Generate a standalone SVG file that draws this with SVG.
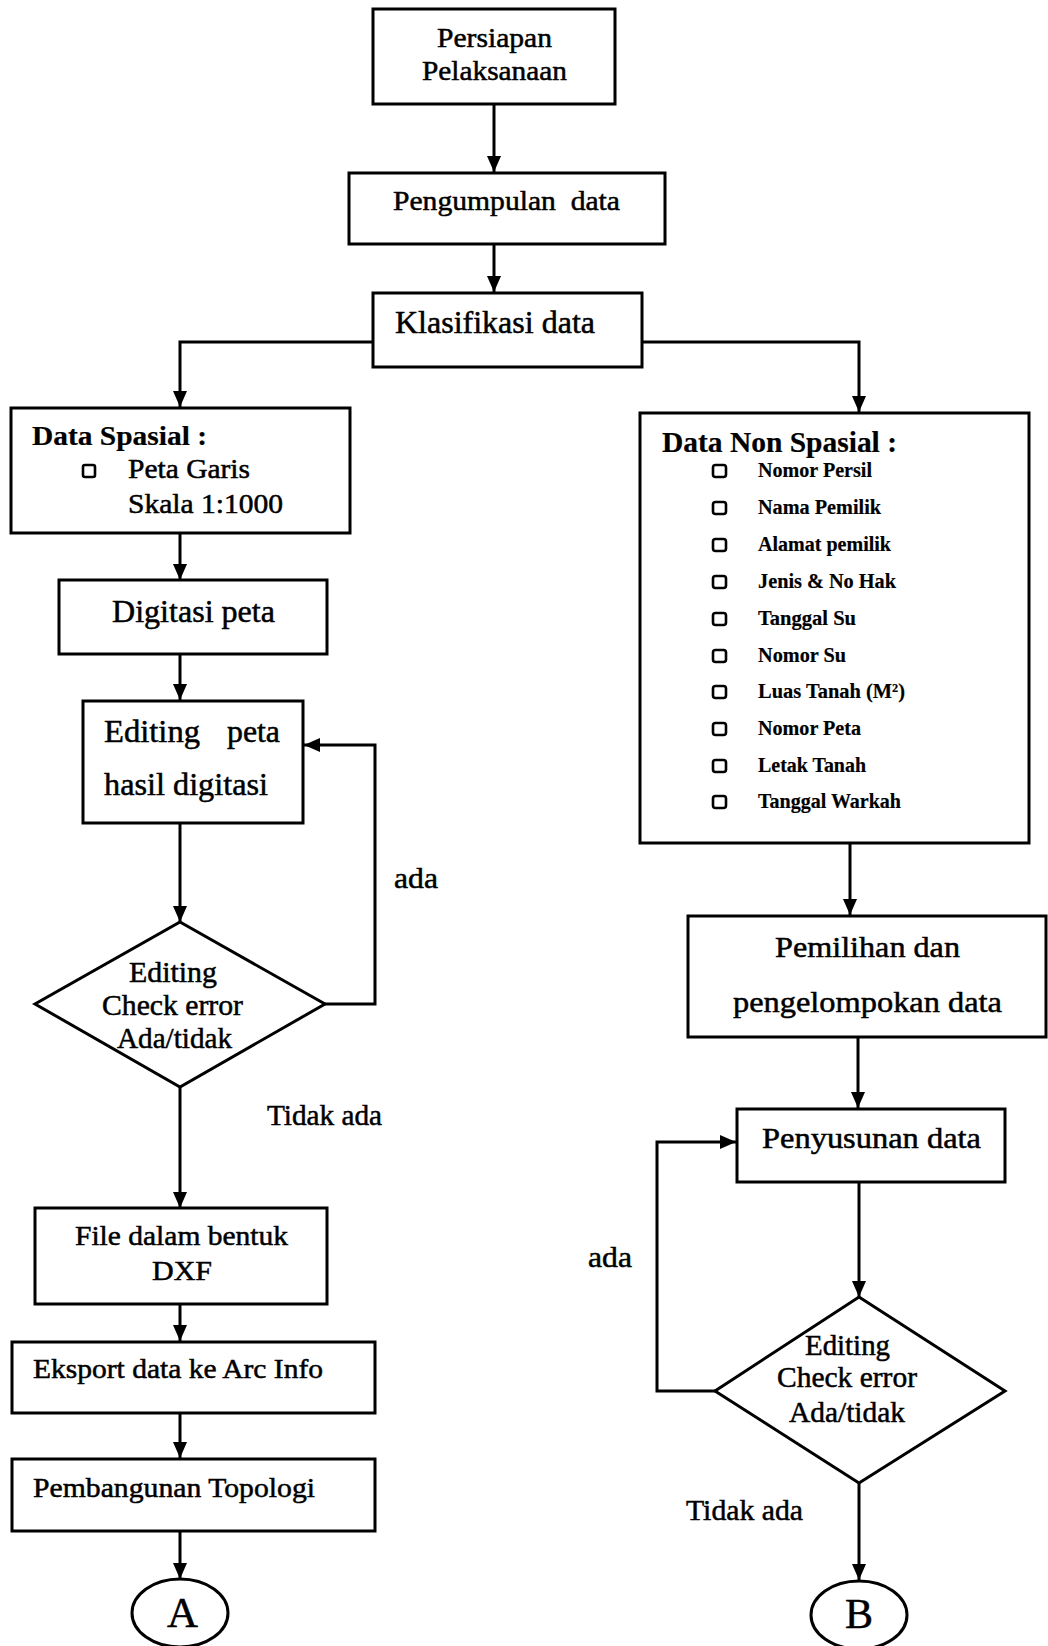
<svg xmlns="http://www.w3.org/2000/svg" width="1048" height="1646" viewBox="0 0 1048 1646">
<style>
.b{fill:#fff;stroke:#000;stroke-width:3}
.t{font-family:"Liberation Serif","Times New Roman",serif;fill:#000;stroke:#000;stroke-width:0.5}
.c{fill:none;stroke:#000;stroke-width:3}
.sq{fill:#fff;stroke:#000;stroke-width:2.6}
.bl{font-weight:bold;stroke-width:0.2}
</style>
<defs>
<marker id="ah" markerUnits="userSpaceOnUse" markerWidth="18" markerHeight="16" refX="16" refY="7" orient="auto">
<path d="M0,0 L16,7 L0,14 z" fill="#000"/>
</marker>
</defs>
<rect width="1048" height="1646" fill="#fff"/>
<g id="connectors">
<path class="c" d="M494,104 V172" marker-end="url(#ah)"/>
<path class="c" d="M494,244 V292" marker-end="url(#ah)"/>
<path class="c" d="M373,342 H180 V407" marker-end="url(#ah)"/>
<path class="c" d="M642,342 H859 V412" marker-end="url(#ah)"/>
<path class="c" d="M180,533 V580" marker-end="url(#ah)"/>
<path class="c" d="M180,654 V700" marker-end="url(#ah)"/>
<path class="c" d="M180,823 V922" marker-end="url(#ah)"/>
<path class="c" d="M325,1004 H375 V745 H304" marker-end="url(#ah)"/>
<path class="c" d="M180,1087 V1208" marker-end="url(#ah)"/>
<path class="c" d="M180,1304 V1341" marker-end="url(#ah)"/>
<path class="c" d="M180,1413 V1458" marker-end="url(#ah)"/>
<path class="c" d="M180,1531 V1579" marker-end="url(#ah)"/>
<path class="c" d="M850,843 V915" marker-end="url(#ah)"/>
<path class="c" d="M858,1037 V1108" marker-end="url(#ah)"/>
<path class="c" d="M859,1182 V1297" marker-end="url(#ah)"/>
<path class="c" d="M715,1391 H657 V1142 H736" marker-end="url(#ah)"/>
<path class="c" d="M859,1483 V1580" marker-end="url(#ah)"/>
</g>
<g id="persiapan">
<rect class="b" x="373" y="9" width="242" height="95"/>
<text class="t" x="437" y="47" font-size="28" textLength="115" lengthAdjust="spacingAndGlyphs">Persiapan</text>
<text class="t" x="422" y="80" font-size="28" textLength="145" lengthAdjust="spacingAndGlyphs">Pelaksanaan</text>
</g>
<g id="pengumpulan">
<rect class="b" x="349" y="173" width="316" height="71"/>
<text class="t" x="393" y="210" font-size="28" textLength="227" lengthAdjust="spacingAndGlyphs" xml:space="preserve">Pengumpulan  data</text>
</g>
<g id="klasifikasi">
<rect class="b" x="373" y="293" width="269" height="74"/>
<text class="t" x="395" y="333" font-size="31" textLength="200" lengthAdjust="spacingAndGlyphs">Klasifikasi data</text>
</g>
<g id="data-spasial">
<rect class="b" x="11" y="408" width="339" height="125"/>
<text class="t bl" x="32" y="445" font-size="28" textLength="175" lengthAdjust="spacingAndGlyphs">Data Spasial :</text>
<rect class="sq" x="83" y="465" width="12" height="12" rx="2"/>
<text class="t" x="128" y="478" font-size="27" textLength="122" lengthAdjust="spacingAndGlyphs">Peta Garis</text>
<text class="t" x="128" y="513" font-size="27" textLength="155" lengthAdjust="spacingAndGlyphs">Skala 1:1000</text>
</g>
<g id="digitasi">
<rect class="b" x="59" y="580" width="268" height="74"/>
<text class="t" x="112" y="622" font-size="31" textLength="163" lengthAdjust="spacingAndGlyphs">Digitasi peta</text>
</g>
<g id="editing-peta">
<rect class="b" x="83" y="701" width="220" height="122"/>
<text class="t" x="104" y="742" font-size="31" textLength="96" lengthAdjust="spacingAndGlyphs">Editing</text>
<text class="t" x="227" y="742" font-size="31" textLength="53" lengthAdjust="spacingAndGlyphs">peta</text>
<text class="t" x="104" y="795" font-size="31" textLength="164" lengthAdjust="spacingAndGlyphs">hasil digitasi</text>
</g>
<g id="check-left">
<polygon class="b" points="180,922 325,1004 180,1087 35,1004"/>
<text class="t" x="129" y="982" font-size="29" textLength="88" lengthAdjust="spacingAndGlyphs">Editing</text>
<text class="t" x="102" y="1015" font-size="29" textLength="141" lengthAdjust="spacingAndGlyphs">Check error</text>
<text class="t" x="117" y="1048" font-size="29" textLength="115" lengthAdjust="spacingAndGlyphs">Ada/tidak</text>
</g>
<g id="label-ada-left"><text class="t" x="394" y="888" font-size="29" textLength="44" lengthAdjust="spacingAndGlyphs">ada</text></g>
<g id="label-tidak-left"><text class="t" x="267" y="1125" font-size="29" textLength="115" lengthAdjust="spacingAndGlyphs">Tidak ada</text></g>
<g id="file-dxf">
<rect class="b" x="35" y="1208" width="292" height="96"/>
<text class="t" x="75" y="1245" font-size="28" textLength="213" lengthAdjust="spacingAndGlyphs">File dalam bentuk</text>
<text class="t" x="152" y="1280" font-size="28" textLength="60" lengthAdjust="spacingAndGlyphs">DXF</text>
</g>
<g id="eksport">
<rect class="b" x="12" y="1342" width="363" height="71"/>
<text class="t" x="33" y="1378" font-size="27" textLength="290" lengthAdjust="spacingAndGlyphs">Eksport data ke Arc Info</text>
</g>
<g id="topologi">
<rect class="b" x="12" y="1459" width="363" height="72"/>
<text class="t" x="33" y="1497" font-size="27" textLength="282" lengthAdjust="spacingAndGlyphs">Pembangunan Topologi</text>
</g>
<g id="connector-a">
<ellipse class="b" cx="180" cy="1613" rx="48" ry="34" stroke-width="2.5"/>
<text class="t" x="167" y="1627" font-size="42" textLength="31" lengthAdjust="spacingAndGlyphs">A</text>
</g>
<g id="data-non-spasial">
<rect class="b" x="640" y="413" width="389" height="430"/>
<text class="t bl" x="662" y="452" font-size="29" textLength="235" lengthAdjust="spacingAndGlyphs">Data Non Spasial :</text>
<g font-size="22">
<rect class="sq" x="713" y="465" width="13" height="12" rx="2.5"/><text class="t bl" x="758" y="477" textLength="114" lengthAdjust="spacingAndGlyphs">Nomor Persil</text>
<rect class="sq" x="713" y="502" width="13" height="12" rx="2.5"/><text class="t bl" x="758" y="514" textLength="123" lengthAdjust="spacingAndGlyphs">Nama Pemilik</text>
<rect class="sq" x="713" y="539" width="13" height="12" rx="2.5"/><text class="t bl" x="758" y="551" textLength="133" lengthAdjust="spacingAndGlyphs">Alamat pemilik</text>
<rect class="sq" x="713" y="576" width="13" height="12" rx="2.5"/><text class="t bl" x="758" y="588" textLength="138" lengthAdjust="spacingAndGlyphs">Jenis &amp; No Hak</text>
<rect class="sq" x="713" y="613" width="13" height="12" rx="2.5"/><text class="t bl" x="758" y="625" textLength="98" lengthAdjust="spacingAndGlyphs">Tanggal Su</text>
<rect class="sq" x="713" y="650" width="13" height="12" rx="2.5"/><text class="t bl" x="758" y="662" textLength="88" lengthAdjust="spacingAndGlyphs">Nomor Su</text>
<rect class="sq" x="713" y="686" width="13" height="12" rx="2.5"/><text class="t bl" x="758" y="698" textLength="147" lengthAdjust="spacingAndGlyphs">Luas Tanah (M²)</text>
<rect class="sq" x="713" y="723" width="13" height="12" rx="2.5"/><text class="t bl" x="758" y="735" textLength="103" lengthAdjust="spacingAndGlyphs">Nomor Peta</text>
<rect class="sq" x="713" y="760" width="13" height="12" rx="2.5"/><text class="t bl" x="758" y="772" textLength="108" lengthAdjust="spacingAndGlyphs">Letak Tanah</text>
<rect class="sq" x="713" y="796" width="13" height="12" rx="2.5"/><text class="t bl" x="758" y="808" textLength="143" lengthAdjust="spacingAndGlyphs">Tanggal Warkah</text>
</g>
</g>
<g id="pemilihan">
<rect class="b" x="688" y="916" width="358" height="121"/>
<text class="t" x="775" y="957" font-size="29" textLength="185" lengthAdjust="spacingAndGlyphs">Pemilihan dan</text>
<text class="t" x="733" y="1012" font-size="29" textLength="269" lengthAdjust="spacingAndGlyphs">pengelompokan data</text>
</g>
<g id="penyusunan">
<rect class="b" x="737" y="1109" width="268" height="73"/>
<text class="t" x="762" y="1148" font-size="29" textLength="219" lengthAdjust="spacingAndGlyphs">Penyusunan data</text>
</g>
<g id="check-right">
<polygon class="b" points="859,1297 1005,1391 859,1483 715,1391"/>
<text class="t" x="805" y="1355" font-size="29" textLength="85" lengthAdjust="spacingAndGlyphs">Editing</text>
<text class="t" x="777" y="1387" font-size="29" textLength="140" lengthAdjust="spacingAndGlyphs">Check error</text>
<text class="t" x="789" y="1422" font-size="29" textLength="116" lengthAdjust="spacingAndGlyphs">Ada/tidak</text>
</g>
<g id="label-ada-right"><text class="t" x="588" y="1267" font-size="29" textLength="44" lengthAdjust="spacingAndGlyphs">ada</text></g>
<g id="label-tidak-right"><text class="t" x="686" y="1520" font-size="29" textLength="117" lengthAdjust="spacingAndGlyphs">Tidak ada</text></g>
<g id="connector-b">
<ellipse class="b" cx="859" cy="1615" rx="48" ry="34" stroke-width="2.5"/>
<text class="t" x="845" y="1628" font-size="42" textLength="28" lengthAdjust="spacingAndGlyphs">B</text>
</g>
</svg>
